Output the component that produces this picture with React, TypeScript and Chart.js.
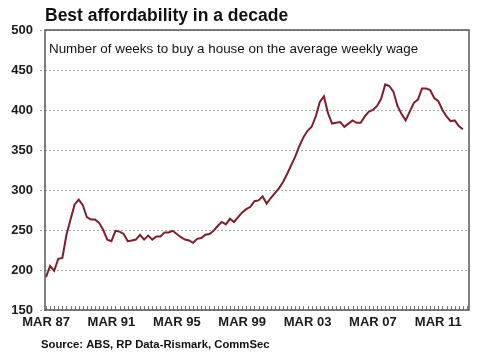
import React, { useEffect, useRef } from "react";
import { Chart, registerables } from "chart.js";

Chart.register(...registerables);

const titleText = "Best affordability in a decade";
const subtitleText = "Number of weeks to buy a house on the average weekly wage";
const sourceText = "Source: ABS, RP Data-Rismark, CommSec";

// x tick labels (quarter index from Mar 1987)
const xTickLabels = ["MAR 87", "MAR 91", "MAR 95", "MAR 99", "MAR 03", "MAR 07", "MAR 11"];
const xTickQuarters = [0, 16, 32, 48, 64, 80, 96];
const yTicks = [150, 200, 250, 300, 350, 400, 450, 500];

// Quarterly values, Mar 1987 onward: weeks of average weekly wage to buy a house
const weeks = [
  191, 205, 199, 214, 215, 244, 263, 282, 288, 281,
  266, 263, 263, 259, 250, 238, 236, 249, 248, 245,
  236, 237, 238, 244, 238, 243, 238, 242, 242, 247,
  247, 249, 245, 241, 238, 237, 234, 239, 240, 244,
  245, 249, 255, 260, 257, 264, 260, 266, 272, 276,
  279, 286, 287, 292, 283, 290, 296, 302, 310, 320,
  331, 342, 355, 366, 374, 379, 392, 410, 417, 396,
  383, 384, 385, 379, 383, 387, 384, 384, 392, 398,
  400, 405, 414, 432, 430, 423, 405, 395, 387, 398,
  409, 413, 427, 427, 425, 415, 411, 400, 392, 386,
  387, 380, 376,
];

const FONT = "'Liberation Sans', Arial, sans-serif";

const decor = {
  id: "decor",
  afterDraw(chart: any) {
    const { ctx, chartArea: a, scales } = chart;
    ctx.save();
    // minor quarterly ticks
    ctx.strokeStyle = "#777";
    ctx.lineWidth = 1;
    ctx.beginPath();
    for (let i = 0; i <= 103; i++) {
      const x = Math.round(scales.x.getPixelForValue(i)) + 0.5;
      ctx.moveTo(x, a.bottom);
      ctx.lineTo(x, a.bottom - 4);
    }
    ctx.stroke();
    // box
    ctx.strokeStyle = "#555";
    ctx.lineWidth = 1.5;
    ctx.strokeRect(a.left, a.top, a.right - a.left, a.bottom - a.top);
    // texts
    ctx.fillStyle = "#111";
    ctx.textAlign = "left";
    ctx.textBaseline = "alphabetic";
    ctx.font = `bold 17.5px ${FONT}`;
    ctx.fillText(titleText, 45, 21);
    ctx.font = `13.4px ${FONT}`;
    ctx.fillText(subtitleText, a.left + 4, a.top + 23);
    ctx.font = `bold 11.3px ${FONT}`;
    ctx.fillText(sourceText, 41, 348);
    ctx.restore();
  },
};

export default function App() {
  const ref = useRef<HTMLCanvasElement | null>(null);

  useEffect(() => {
    if (!ref.current) return;
    const chart = new Chart(ref.current, {
      type: "line",
      data: {
        datasets: [
          {
            data: weeks.map((v, i) => ({ x: i, y: v })),
            borderColor: "#7d1f2c",
            borderWidth: 2,
            pointRadius: 0,
            tension: 0,
            fill: false,
          },
        ],
      },
      options: {
        animation: false,
        responsive: false,
        maintainAspectRatio: false,
        layout: { padding: { top: 30, right: 9, left: 0, bottom: 0 } },
        plugins: { legend: { display: false }, tooltip: { enabled: false } },
        scales: {
          x: {
            type: "linear",
            min: -0.25,
            max: 103.5,
            afterFit: (s: any) => {
              s.height = 42;
            },
            afterBuildTicks: (s: any) => {
              s.ticks = xTickQuarters.map((v) => ({ value: v }));
            },
            ticks: {
              autoSkip: false,
              maxRotation: 0,
              padding: 5,
              color: "#1a1a1a",
              font: { family: FONT, size: 13, weight: "bold" },
              callback: (v: any) => {
                const k = xTickQuarters.indexOf(Number(v));
                return k >= 0 ? xTickLabels[k] : "";
              },
            },
            grid: { display: false, drawTicks: false },
            border: { display: false },
          },
          y: {
            min: 150,
            max: 500,
            afterFit: (s: any) => {
              s.width = 45;
            },
            afterBuildTicks: (s: any) => {
              s.ticks = yTicks.map((v) => ({ value: v }));
            },
            ticks: {
              padding: 7,
              color: "#1a1a1a",
              font: { family: FONT, size: 13, weight: "bold" },
            },
            grid: {
              color: "#aaa",
              tickLength: 5,
              tickColor: "#aaa",
              tickBorderDash: [2, 2],
              lineWidth: 1,
            },
            border: { display: false, dash: [2, 2] },
          },
        },
      },
      plugins: [decor],
    });
    return () => chart.destroy();
  }, []);

  return (
    <div style={{ position: "absolute", left: 0, top: 0, width: 478, height: 352, background: "#fff" }}>
      <canvas ref={ref} width={478} height={352} />
    </div>
  );
}
